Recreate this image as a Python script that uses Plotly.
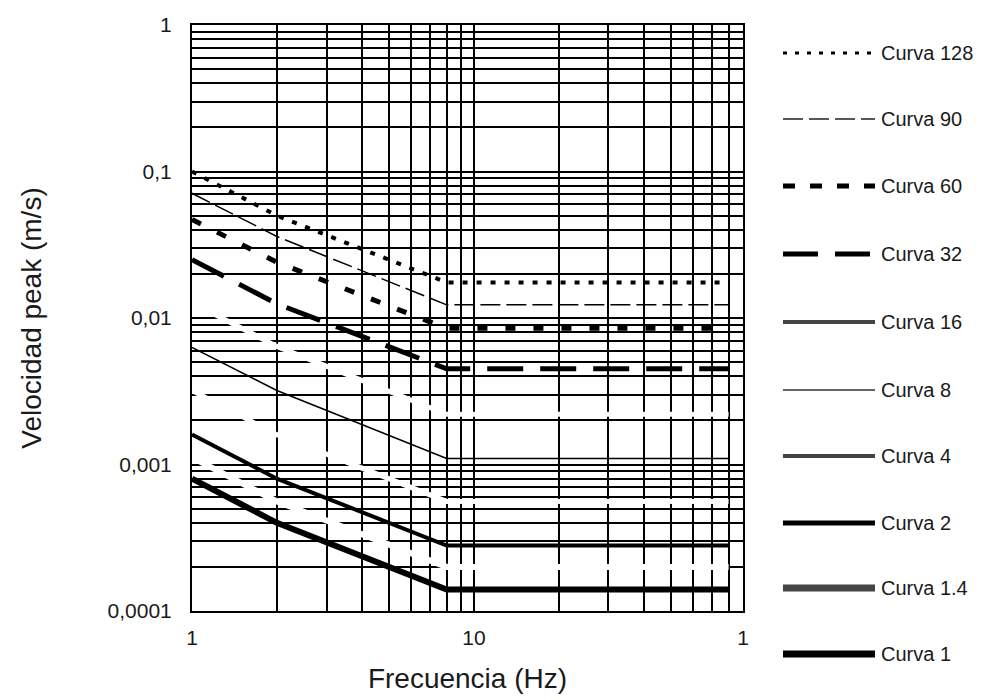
import plotly.graph_objects as go

# ---------------- data ----------------
freq_hz = [1, 2, 8, 80]

curve_names = ["Curva 128", "Curva 90", "Curva 60", "Curva 32", "Curva 16",
               "Curva 8", "Curva 4", "Curva 2", "Curva 1.4", "Curva 1"]

v_128 = [0.100, 0.050, 0.0175, 0.0175]
v_90 = [0.071, 0.036, 0.0123, 0.0123]
v_60 = [0.047, 0.024, 0.0085, 0.0085]
v_32 = [0.025, 0.0125, 0.0045, 0.0045]
v_16 = [0.0127, 0.0064, 0.0022, 0.0022]
v_8 = [0.0063, 0.0032, 0.0011, 0.0011]
v_4 = [0.0032, 0.0016, 0.00056, 0.00056]
v_2 = [0.0016, 0.0008, 0.00028, 0.00028]
v_1_4 = [0.00112, 0.00056, 0.0002, 0.0002]
v_1 = [0.0008, 0.0004, 0.00014, 0.00014]

x_tick_vals = [1, 10, 90]
x_tick_text = ["1", "10", "1"]
x_minor_vals = [2, 3, 4, 5, 6, 7, 8, 9, 20, 30, 40, 50, 60, 70, 80]
y_tick_vals = [0.0001, 0.001, 0.01, 0.1, 1]
y_tick_text = ["0,0001", "0,001", "0,01", "0,1", "1"]
y_minor_vals = [m * 10.0 ** e for e in range(-4, 0) for m in range(2, 10)]

series = {
    "Curva 128": v_128, "Curva 90": v_90, "Curva 60": v_60, "Curva 32": v_32,
    "Curva 16": v_16, "Curva 8": v_8, "Curva 4": v_4, "Curva 2": v_2,
    "Curva 1.4": v_1_4, "Curva 1": v_1,
}

# ---------------- styles ----------------
plot_style = {
    "Curva 128": dict(color="black", width=4, dash="5px,9px"),
    "Curva 90": dict(color="black", width=1.5, dash="20px,6px"),
    "Curva 60": dict(color="black", width=5, dash="10px,18px"),
    "Curva 32": dict(color="black", width=5, dash="36px,17px"),
    "Curva 16": dict(color="white", width=5, dash="solid"),
    "Curva 8": dict(color="black", width=1.5, dash="solid"),
    "Curva 4": dict(color="white", width=5, dash="solid"),
    "Curva 2": dict(color="black", width=4, dash="solid"),
    "Curva 1.4": dict(color="white", width=6, dash="solid"),
    "Curva 1": dict(color="black", width=6, dash="solid"),
}
legend_style = {
    "Curva 128": dict(color="black", width=3, dash="4px,8px"),
    "Curva 90": dict(color="#222222", width=1.5, dash="20px,6px"),
    "Curva 60": dict(color="black", width=5, dash="12px,15px"),
    "Curva 32": dict(color="black", width=5, dash="35px,17px"),
    "Curva 16": dict(color="#444444", width=4, dash="solid"),
    "Curva 8": dict(color="#333333", width=1.5, dash="solid"),
    "Curva 4": dict(color="#444444", width=4, dash="solid"),
    "Curva 2": dict(color="black", width=5, dash="solid"),
    "Curva 1.4": dict(color="#444444", width=7, dash="solid"),
    "Curva 1": dict(color="black", width=7, dash="solid"),
}

W, H = 1001, 700
L, R, T, B = 192, 743, 25, 611  # plot area in px
FONT = "Liberation Sans, Arial, sans-serif"
TXT = "#1a1a1a"

fig = go.Figure()

# white curves first (they cut the grid), then black ones on top
order = [n for n in curve_names if plot_style[n]["color"] == "white"] + \
        [n for n in curve_names if plot_style[n]["color"] != "white"]
for name in order:
    fig.add_trace(go.Scatter(
        x=freq_hz, y=series[name], mode="lines", name=name,
        line=plot_style[name], showlegend=False,
    ))


def px_x(px):
    return (px - L) / (R - L)


def px_y(py):
    return (B - py) / (B - T)


# custom legend at the right
legend_rows_px = [53, 119, 186, 254, 322, 390, 456, 523, 588, 654]
shapes = []
annotations = []
for name, ry in zip(curve_names, legend_rows_px):
    st = legend_style[name]
    shapes.append(dict(
        type="line", xref="paper", yref="paper",
        x0=px_x(783), x1=px_x(875), y0=px_y(ry), y1=px_y(ry),
        line=dict(color=st["color"], width=st["width"], dash=st["dash"]),
    ))
    annotations.append(dict(
        xref="paper", yref="paper", x=px_x(879), y=px_y(ry),
        xanchor="left", yanchor="middle", showarrow=False,
        text=name, font=dict(family=FONT, size=20, color=TXT),
    ))

grid = dict(showgrid=True, gridcolor="black", gridwidth=2)

fig.update_layout(
    width=W, height=H,
    margin=dict(l=L, r=W - R, t=T, b=H - B, pad=0),
    paper_bgcolor="white", plot_bgcolor="white",
    font=dict(family=FONT, size=21, color=TXT),
    showlegend=False,
    shapes=shapes,
    annotations=annotations,
    xaxis=dict(
        type="log", range=[0, 1.9542], tickmode="array",
        tickvals=x_tick_vals, ticktext=x_tick_text,
        ticks="", ticklabelstandoff=7,
        showline=True, linecolor="black", linewidth=2, mirror=True,
        zeroline=False, **grid,
        minor=dict(tickmode="array", tickvals=x_minor_vals, showgrid=True,
                   gridcolor="black", gridwidth=2, ticks=""),
        title=dict(text="Frecuencia (Hz)", font=dict(size=28, color=TXT),
                   standoff=20),
        tickfont=dict(size=21, color=TXT),
    ),
    yaxis=dict(
        type="log", range=[-4, 0], tickmode="array",
        tickvals=y_tick_vals, ticktext=y_tick_text,
        ticks="", ticklabelstandoff=14,
        showline=True, linecolor="black", linewidth=2, mirror=True,
        zeroline=False, **grid,
        minor=dict(tickmode="array", tickvals=y_minor_vals, showgrid=True,
                   gridcolor="black", gridwidth=2, ticks=""),
        title=dict(text="Velocidad peak (m/s)", font=dict(size=28, color=TXT),
                   standoff=58),
        tickfont=dict(size=21, color=TXT),
    ),
)

fig.write_html("out.html")
